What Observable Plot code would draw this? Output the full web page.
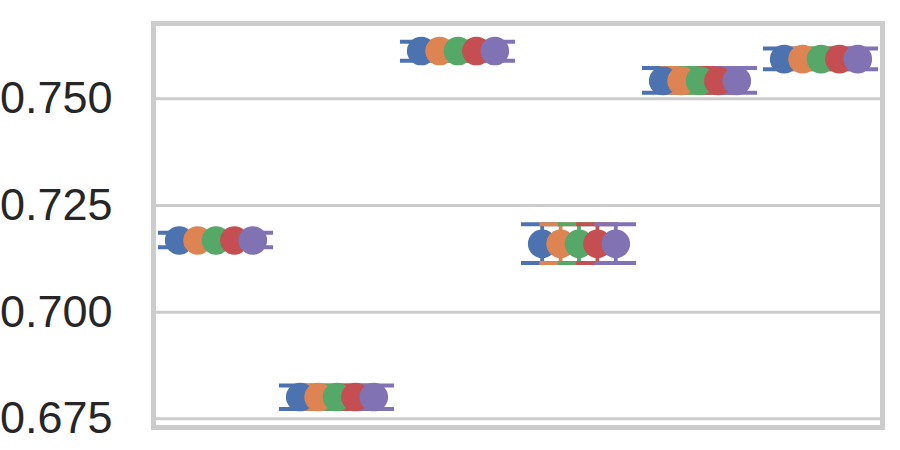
<!DOCTYPE html>
<html>
<head>
<meta charset="utf-8">
<script src="https://cdn.jsdelivr.net/npm/d3@7"></script>
<script src="https://cdn.jsdelivr.net/npm/@observablehq/plot@0.6"></script>
<style>
  html, body { margin: 0; padding: 0; background: #ffffff; }
  #chart svg { display: block; }
</style>
</head>
<body>
<div id="chart"></div>
<script>
// ---- data ----
const categories = ["g1", "g2", "g3", "g4", "g5", "g6"];
const seriesNames = ["s1", "s2", "s3", "s4", "s5"];
const seriesColors = ["#4C72B0", "#DD8452", "#55A868", "#C44E52", "#8172B3"];

const s1Values = [0.7168, 0.6801, 0.7612, 0.7160, 0.7542, 0.7593];
const s2Values = [0.7168, 0.6801, 0.7612, 0.7160, 0.7542, 0.7593];
const s3Values = [0.7168, 0.6801, 0.7612, 0.7160, 0.7542, 0.7593];
const s4Values = [0.7168, 0.6801, 0.7612, 0.7160, 0.7542, 0.7593];
const s5Values = [0.7168, 0.6801, 0.7612, 0.7160, 0.7542, 0.7593];

const ciLow  = [0.7152, 0.6773, 0.7589, 0.7115, 0.7514, 0.7569];
const ciHigh = [0.7186, 0.6828, 0.7634, 0.7206, 0.7572, 0.7618];

const yTicks = [0.675, 0.700, 0.725, 0.750];
const yDomain = [0.67296, 0.76765];

// ---- build table ----
const seriesValues = [s1Values, s2Values, s3Values, s4Values, s5Values];
const rows = [];
seriesNames.forEach((s, si) => {
  categories.forEach((c, ci) => {
    rows.push({series: s, si, cat: c, value: seriesValues[si][ci], lo: ciLow[ci], hi: ciHigh[ci]});
  });
});

const dodgeStep = 18.4;
const capInset = 39.75;
const gridColor = "#cccccc";

const errorMarks = [];
const dotMarks = [];
seriesNames.forEach((s, si) => {
  const data = rows.filter(d => d.series === s);
  const dx = (si - (seriesNames.length - 1) / 2) * dodgeStep;
  const color = seriesColors[si];
  errorMarks.push(
    Plot.ruleX(data, {x: "cat", y1: "lo", y2: "hi", dx, stroke: color, strokeWidth: 3.8}),
    Plot.tickY(data, {x: "cat", y: "lo", dx, insetLeft: capInset, insetRight: capInset, stroke: color, strokeWidth: 4}),
    Plot.tickY(data, {x: "cat", y: "hi", dx, insetLeft: capInset, insetRight: capInset, stroke: color, strokeWidth: 4})
  );
  dotMarks.push(
    Plot.dot(data, {x: "cat", y: "value", dx, r: 14.3, fill: color, stroke: "none"})
  );
});

const chart = Plot.plot({
  width: 900,
  height: 450,
  marginLeft: 153,
  marginRight: 18,
  marginTop: 23,
  marginBottom: 23,
  style: {
    fontFamily: "'Liberation Sans', Arial, sans-serif",
    fontSize: "45px",
    color: "#262626",
    background: "#ffffff"
  },
  x: {domain: categories, padding: 0, axis: null},
  y: {domain: yDomain, axis: null},
  marks: [
    Plot.gridY(yTicks, {stroke: gridColor, strokeOpacity: 1, strokeWidth: 3}),
    Plot.frame({stroke: gridColor, strokeWidth: 5}),
    ...errorMarks,
    ...dotMarks,
    Plot.axisY(yTicks, {
      tickSize: 0,
      tickPadding: 41,
      tickFormat: d3.format(".3f"),
      fontSize: 45,
      fill: "#262626",
      label: null
    })
  ]
});
document.getElementById("chart").appendChild(chart);
</script>
</body>
</html>
